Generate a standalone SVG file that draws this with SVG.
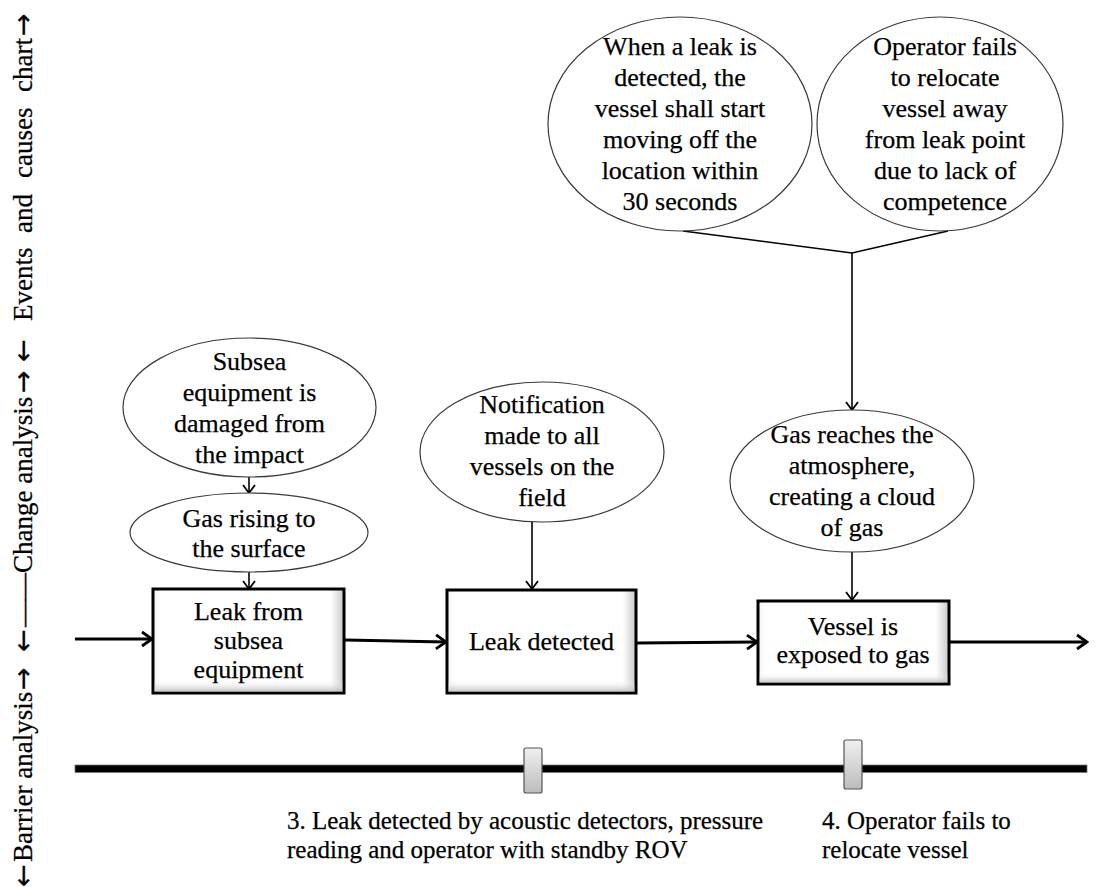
<svg xmlns="http://www.w3.org/2000/svg" width="1097" height="887" viewBox="0 0 1097 887">
  <style>
    text { font-family: "Liberation Serif", "Times New Roman", serif; fill: #000; stroke: #000; stroke-width: 0.25; }
    .t { font-size: 26px; text-anchor: middle; }
    .lbl { font-size: 25px; }
    .side { font-size: 27px; }
    .arw { font-family: "DejaVu Sans", sans-serif; }
    .ell { fill: #fff; stroke: #3a3a3a; stroke-width: 1.2; }
    .box { fill: url(#boxH); stroke: #000; stroke-width: 3; }
    .thin { fill: none; stroke: #000; stroke-width: 1.6; }
    .thick { fill: none; stroke: #000; stroke-width: 2.8; }
  </style>
  <defs>
    <linearGradient id="boxH" x1="0" y1="0" x2="1" y2="0">
      <stop offset="0" stop-color="#f4f4f4"/>
      <stop offset="0.04" stop-color="#fff"/>
      <stop offset="0.93" stop-color="#fff"/>
      <stop offset="1" stop-color="#c8c8c8"/>
    </linearGradient>
    <linearGradient id="boxV" x1="0" y1="0" x2="0" y2="1">
      <stop offset="0" stop-color="#fff" stop-opacity="0"/>
      <stop offset="0.88" stop-color="#fff" stop-opacity="0"/>
      <stop offset="1" stop-color="#b8b8b8" stop-opacity="0.8"/>
    </linearGradient>
    <linearGradient id="tab" x1="0" y1="0" x2="0" y2="1">
      <stop offset="0" stop-color="#f0f0f0"/>
      <stop offset="1" stop-color="#bcbcbc"/>
    </linearGradient>
    <marker id="arrThin" viewBox="-2 -8 12 16" refX="8" refY="0" markerWidth="12" markerHeight="16" markerUnits="userSpaceOnUse" orient="auto">
      <path d="M0,-6 L8,0 L0,6" fill="none" stroke="#000" stroke-width="1.8"/>
    </marker>
    <marker id="arrThick" viewBox="-2 -10 14 20" refX="10" refY="0" markerWidth="14" markerHeight="20" markerUnits="userSpaceOnUse" orient="auto">
      <path d="M0,-7 L10,0 L0,7" fill="none" stroke="#000" stroke-width="2.8"/>
    </marker>
  </defs>

  <rect width="1097" height="887" fill="#fff"/>

  <!-- vertical section labels along the left edge (read bottom to top) -->
  <g id="side-labels" transform="rotate(-90)">
    <text class="side" y="32"><tspan class="arw" x="-887">←</tspan><tspan x="-862">Barrier analysis</tspan><tspan class="arw" x="-690">→</tspan></text>
    <text class="side" y="32"><tspan class="arw" x="-652">←</tspan><tspan x="-627">——Change analysis</tspan><tspan class="arw" x="-393">→</tspan></text>
    <text class="side" y="32"><tspan class="arw" x="-362">←</tspan><tspan x="-321">Events</tspan><tspan x="-233">and</tspan><tspan x="-178">causes</tspan><tspan x="-92">chart</tspan><tspan class="arw" x="-36">→</tspan></text>
  </g>

  <!-- connectors -->
  <g id="connectors">
    <line class="thin" x1="249" y1="477" x2="249" y2="493" marker-end="url(#arrThin)"/>
    <line class="thin" x1="249" y1="572" x2="249" y2="589" marker-end="url(#arrThin)"/>
    <line class="thin" x1="532" y1="522" x2="532" y2="589" marker-end="url(#arrThin)"/>
    <polyline class="thin" points="683,231 852,253 948,231"/>
    <line class="thin" x1="852" y1="253" x2="852" y2="410" marker-end="url(#arrThin)"/>
    <line class="thin" x1="852" y1="552" x2="852" y2="600" marker-end="url(#arrThin)"/>
    <line class="thick" x1="75" y1="639" x2="152" y2="639" marker-end="url(#arrThick)"/>
    <line class="thick" x1="345" y1="640" x2="446" y2="642" marker-end="url(#arrThick)"/>
    <line class="thick" x1="637" y1="643" x2="757" y2="642" marker-end="url(#arrThick)"/>
    <line class="thick" x1="950" y1="642" x2="1087" y2="642" marker-end="url(#arrThick)"/>
  </g>

  <!-- causes -->
  <g id="cause-damage">
    <ellipse class="ell" cx="249.5" cy="407.5" rx="126.5" ry="69.5"/>
    <text class="t" x="249.5" y="370">Subsea</text>
    <text class="t" x="249.5" y="401">equipment is</text>
    <text class="t" x="249.5" y="432">damaged from</text>
    <text class="t" x="249.5" y="463">the impact</text>
  </g>
  <g id="cause-gas-rising">
    <ellipse class="ell" cx="249" cy="532.5" rx="119" ry="39.5"/>
    <text class="t" x="249" y="527">Gas rising to</text>
    <text class="t" x="249" y="557">the surface</text>
  </g>
  <g id="cause-notification">
    <ellipse class="ell" cx="542" cy="452" rx="122" ry="70"/>
    <text class="t" x="542" y="413">Notification</text>
    <text class="t" x="542" y="444">made to all</text>
    <text class="t" x="542" y="475">vessels on the</text>
    <text class="t" x="542" y="506">field</text>
  </g>
  <g id="cause-procedure">
    <ellipse class="ell" cx="680" cy="124" rx="132" ry="107"/>
    <text class="t" x="680" y="55">When a leak is</text>
    <text class="t" x="680" y="86">detected, the</text>
    <text class="t" x="680" y="117">vessel shall start</text>
    <text class="t" x="680" y="148">moving off the</text>
    <text class="t" x="680" y="179">location within</text>
    <text class="t" x="680" y="210">30 seconds</text>
  </g>
  <g id="cause-competence">
    <ellipse class="ell" cx="940" cy="124" rx="123" ry="107"/>
    <text class="t" x="945" y="55">Operator fails</text>
    <text class="t" x="945" y="86">to relocate</text>
    <text class="t" x="945" y="117">vessel away</text>
    <text class="t" x="945" y="148">from leak point</text>
    <text class="t" x="945" y="179">due to lack of</text>
    <text class="t" x="945" y="210">competence</text>
  </g>
  <g id="cause-gas-cloud">
    <ellipse class="ell" cx="852" cy="481" rx="122" ry="71"/>
    <text class="t" x="852" y="443">Gas reaches the</text>
    <text class="t" x="852" y="474">atmosphere,</text>
    <text class="t" x="852" y="505">creating a cloud</text>
    <text class="t" x="852" y="536">of gas</text>
  </g>

  <!-- events -->
  <g id="event-leak">
    <rect class="box" x="153" y="589" width="191" height="104"/>
    <rect x="154.5" y="590.5" width="188" height="101" fill="url(#boxV)"/>
    <text class="t" x="248.5" y="620">Leak from</text>
    <text class="t" x="248.5" y="649">subsea</text>
    <text class="t" x="248.5" y="678">equipment</text>
  </g>
  <g id="event-detected">
    <rect class="box" x="447" y="590" width="189" height="103"/>
    <rect x="448.5" y="591.5" width="186" height="100" fill="url(#boxV)"/>
    <text class="t" x="541.5" y="650">Leak detected</text>
  </g>
  <g id="event-exposed">
    <rect class="box" x="758" y="601" width="191" height="83"/>
    <rect x="759.5" y="602.5" width="188" height="80" fill="url(#boxV)"/>
    <text class="t" x="853" y="635">Vessel is</text>
    <text class="t" x="853" y="663">exposed to gas</text>
  </g>

  <!-- barrier line with barrier tabs -->
  <g id="barrier-line">
    <rect x="75" y="765" width="1012" height="7.5" fill="#000" stroke="#777" stroke-width="0.8"/>
  </g>
  <g id="barrier-3">
    <rect x="524" y="748" width="18" height="45" rx="2" fill="url(#tab)" stroke="#555" stroke-width="1.2"/>
    <text class="lbl" x="287" y="829">3. Leak detected by acoustic detectors, pressure</text>
    <text class="lbl" x="287" y="858">reading and operator with standby ROV</text>
  </g>
  <g id="barrier-4">
    <rect x="844" y="740" width="18" height="49" rx="2" fill="url(#tab)" stroke="#555" stroke-width="1.2"/>
    <text class="lbl" x="822" y="829">4. Operator fails to</text>
    <text class="lbl" x="822" y="858">relocate vessel</text>
  </g>
</svg>
